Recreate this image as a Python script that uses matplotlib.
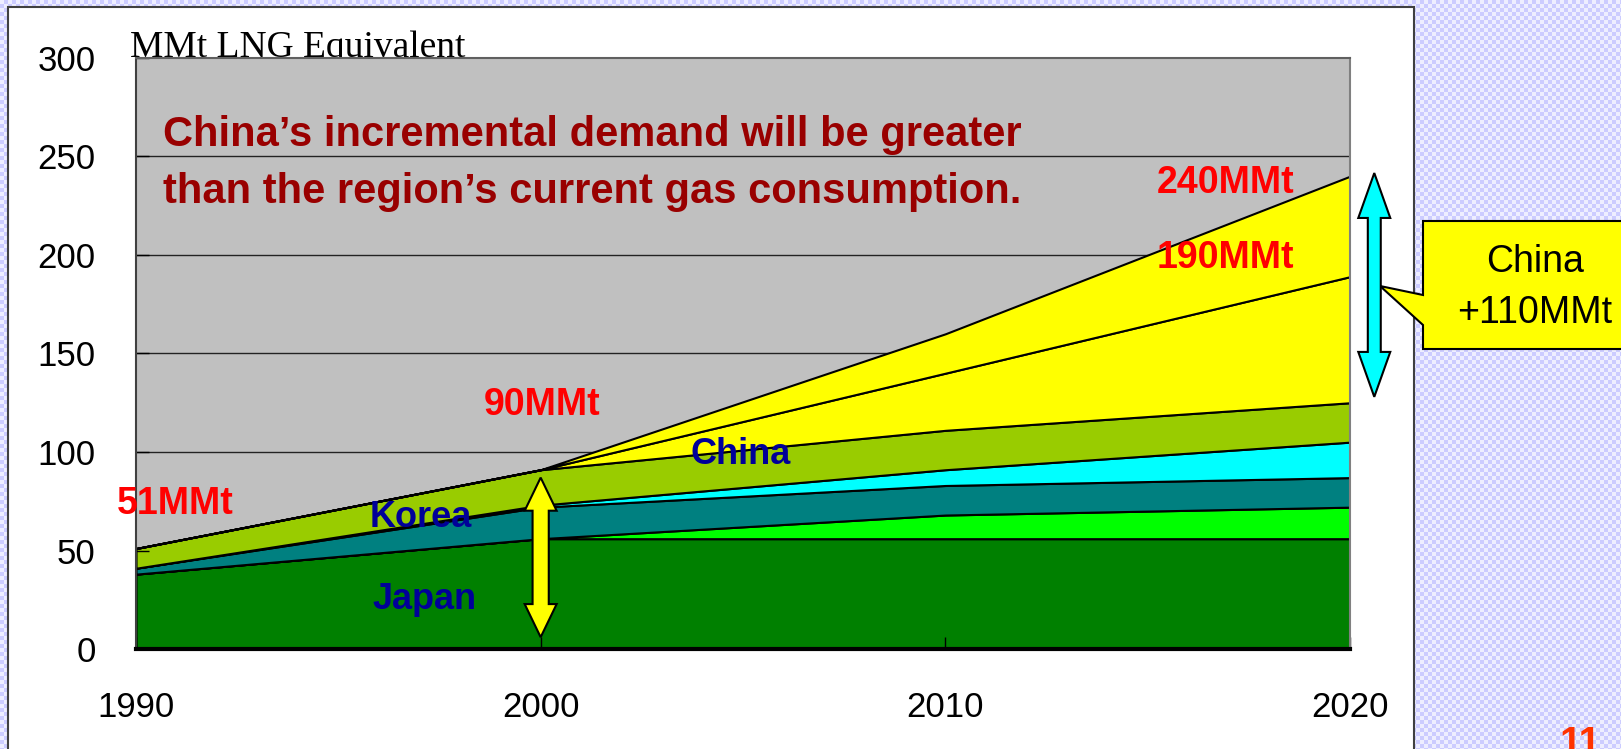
import numpy as np
import matplotlib
matplotlib.use("Agg")
import matplotlib.pyplot as plt
import matplotlib.patches as patches

plt.rcParams['font.family'] = ['Liberation Sans', 'DejaVu Sans']

# LNG demand by country (MMt LNG equivalent), stacked bottom -> top
years = [1990, 2000, 2010, 2020]
japan = [38, 56, 56, 56]
others = [0, 0, 12, 16]
korea = [3, 16, 15, 15]
taiwan = [0, 1, 8, 18]
china_base = [10, 18, 20, 20]
china_inc1 = [0, 0, 29, 64]
china_inc2 = [0, 0, 20, 51]

layer_colors = ['#008000', '#00FF00', '#008080', '#00FFFF',
                '#99CC00', '#FFFF00', '#FFFF00']

yticks = [0, 50, 100, 150, 200, 250, 300]
xticks = [1990, 2000, 2010, 2020]

W, H = 1621, 749
fig = plt.figure(figsize=(W / 100, H / 100), dpi=100)

# checkered slide background
yy, xx = np.mgrid[0:H, 0:W]
check = ((xx // 4 + yy // 4) % 2).astype(bool)
bg = np.zeros((H, W, 3), dtype=np.uint8)
bg[check] = (204, 204, 255)
bg[~check] = (238, 238, 255)
fig.figimage(bg, xo=0, yo=0, origin='upper', zorder=-10)

# pixel-coordinate layer for the frame and the callout
bg_ax = fig.add_axes([0, 0, 1, 1])
bg_ax.set_xlim(0, W)
bg_ax.set_ylim(H, 0)
bg_ax.axis('off')
bg_ax.set_zorder(0)
bg_ax.add_patch(patches.Rectangle((8, 7), 1406, 760, facecolor='white',
                                  edgecolor='#404040', linewidth=1.5))

callout = patches.Polygon([(1423, 221), (1660, 221), (1660, 349), (1423, 349),
                           (1423, 325), (1380, 286), (1423, 295)],
                          closed=True, facecolor='#FFFF00',
                          edgecolor='black', linewidth=1.5)
bg_ax.add_patch(callout)
bg_ax.text(1535, 262, 'China', ha='center', va='center', fontsize=27)
bg_ax.text(1535, 313, '+110MMt', ha='center', va='center', fontsize=27)
bg_ax.text(1580, 754, '11', ha='center', va='baseline', fontsize=28,
           fontweight='bold', color='#FF3300')

# main chart
ax = fig.add_axes([136 / W, 1 - 649 / H, (1350 - 136) / W, (649 - 58) / H])
ax.set_zorder(1)
ax.set_facecolor('#C0C0C0')

ax.stackplot(years, japan, others, korea, taiwan, china_base,
             china_inc1, china_inc2, colors=layer_colors,
             edgecolor='black', linewidth=1.5, zorder=1)

for yv in yticks[1:-1]:
    ax.axhline(yv, color='#222222', linewidth=1, zorder=0.5)

ax.set_xlim(1990, 2020)
ax.set_ylim(0, 300)
ax.set_xticks(xticks)
ax.set_yticks(yticks)
ax.tick_params(axis='both', direction='in', length=9, width=1,
               color='black', labelsize=25)
ax.tick_params(axis='y', pad=29)
ax.tick_params(axis='x', pad=30)

ax.spines['bottom'].set_linewidth(3)
ax.spines['bottom'].set_color('black')
ax.spines['left'].set_color('#404040')
ax.spines['left'].set_linewidth(1.5)
ax.spines['top'].set_color('#606060')
ax.spines['top'].set_linewidth(1.5)
ax.spines['right'].set_color('#808080')
ax.spines['right'].set_linewidth(1.5)


def double_arrow(x, y0, y1, head_w, shaft_w, head_len, color):
    pts = [(x, y1), (x + head_w / 2, y1 - head_len),
           (x + shaft_w / 2, y1 - head_len), (x + shaft_w / 2, y0 + head_len),
           (x + head_w / 2, y0 + head_len), (x, y0),
           (x - head_w / 2, y0 + head_len), (x - shaft_w / 2, y0 + head_len),
           (x - shaft_w / 2, y1 - head_len), (x - head_w / 2, y1 - head_len)]
    ax.add_patch(patches.Polygon(pts, closed=True, facecolor=color,
                                 edgecolor='black', linewidth=1.5,
                                 clip_on=False, zorder=5))


totals = np.sum([japan, others, korea, taiwan, china_base,
                 china_inc1, china_inc2], axis=0)
base_tops = np.sum([japan, others, korea, taiwan, china_base], axis=0)

double_arrow(2000, 6, totals[1] - 4, 0.79, 0.40, 16.8, '#FFFF00')
double_arrow(2020.6, base_tops[3] + 3, totals[3] + 1.6, 0.79, 0.32, 22.8,
             '#00FFFF')

# value labels
red = '#FF0000'
ax.text(2016.93, 236.5, '240MMt', ha='center', va='center', fontsize=27,
        fontweight='bold', color=red)
ax.text(2016.93, 198.5, '190MMt', ha='center', va='center', fontsize=27,
        fontweight='bold', color=red)
ax.text(2000.03, 123.9, '90MMt', ha='center', va='center', fontsize=27,
        fontweight='bold', color=red)
ax.text(1990.96, 73.6, '51MMt', ha='center', va='center', fontsize=27,
        fontweight='bold', color=red)

blue = '#000099'
ax.text(2004.95, 98.5, 'China', ha='center', va='center', fontsize=26,
        fontweight='bold', color=blue)
ax.text(1997.04, 66.5, 'Korea', ha='center', va='center', fontsize=26,
        fontweight='bold', color=blue)
ax.text(1997.12, 24.9, 'Japan', ha='center', va='center', fontsize=26,
        fontweight='bold', color=blue)

ax.text(1990.67, 260.9, 'China\u2019s incremental demand will be greater',
        ha='left', va='center', fontsize=30, fontweight='bold',
        color='#990000')
ax.text(1990.67, 232, 'than the region\u2019s current gas consumption.',
        ha='left', va='center', fontsize=30, fontweight='bold',
        color='#990000')

bg_ax.text(130, 57, 'MMt LNG Equivalent', ha='left', va='baseline',
           fontsize=27, family='Liberation Serif', zorder=3)

fig.savefig('out.png', dpi=100)
